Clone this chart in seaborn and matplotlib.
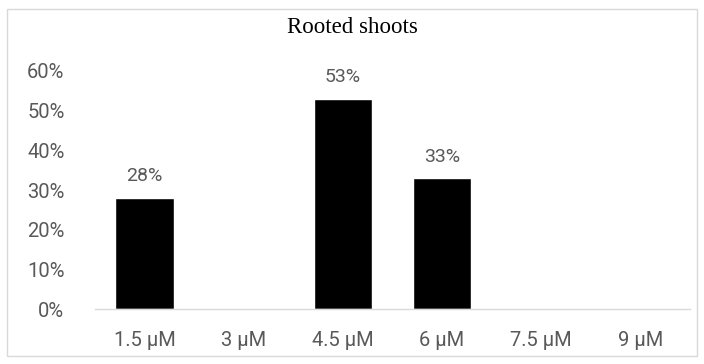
import matplotlib
matplotlib.use("Agg")
import matplotlib.pyplot as plt
import seaborn as sns
import pandas as pd
from matplotlib.patches import Rectangle

# Chart data
concentrations = ["1.5 µM", "3 µM", "4.5 µM", "6 µM", "7.5 µM", "9 µM"]
rooted = [0.28, 0.0, 0.53, 0.33, 0.0, 0.0]
y_ticks = [0, 0.1, 0.2, 0.3, 0.4, 0.5, 0.6]

ds = pd.DataFrame({"conc": concentrations, "rooted": rooted})

sns.set_style("white")
plt.rcParams["font.family"] = ["Roboto", "DejaVu Sans"]
grey = "#595959"

fig = plt.figure(figsize=(7.04, 3.64), dpi=100)
ax = fig.add_axes([0.135, 0.151, 0.845, 0.654])

sns.barplot(data=ds, x="conc", y="rooted", color="black", width=0.59,
            saturation=1, ax=ax)

# value labels above the non-zero bars
for i, v in enumerate(rooted):
    if v > 0:
        ax.annotate(f"{v:.0%}", (i, v), xytext=(0, 9), textcoords="offset points",
                    ha="center", va="bottom", fontsize=14, color=grey)

ax.set_ylim(0, 0.6)
ax.set_yticks(y_ticks)
ax.set_yticklabels([f"{t:.0%}" for t in y_ticks])
ax.set_xlabel("")
ax.set_ylabel("")
ax.tick_params(axis="both", length=0, labelsize=14.5, colors=grey)
ax.tick_params(axis="x", pad=16)
ax.tick_params(axis="y", pad=22)
for s in ["top", "right", "left"]:
    ax.spines[s].set_visible(False)
ax.spines["bottom"].set_color("#d9d9d9")
ax.spines["bottom"].set_linewidth(1)

fig.text(0.5, 0.925, "Rooted shoots", ha="center", va="center",
         fontsize=16.5, family="Liberation Serif", color="black")

fig.patches.append(Rectangle((0.01, 0.022), 0.98, 0.953, transform=fig.transFigure,
                             fill=False, edgecolor="#d9d9d9", linewidth=1))

fig.savefig("out.png", dpi=100)
